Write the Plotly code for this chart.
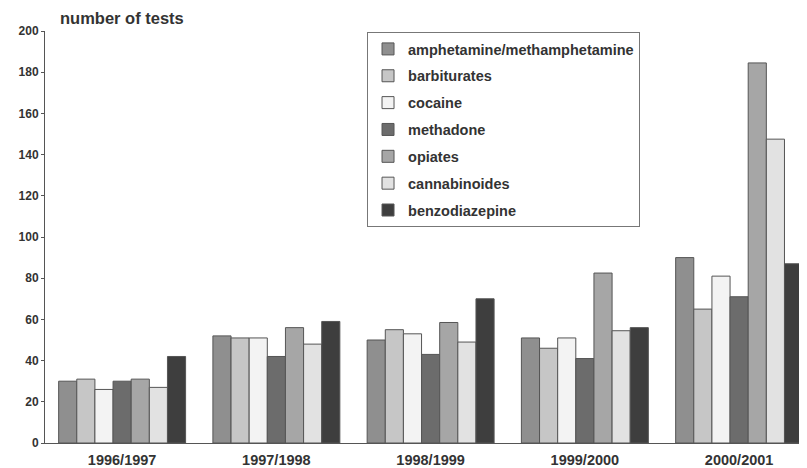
import plotly.graph_objects as go

years = ["1996/1997", "1997/1998", "1998/1999", "1999/2000", "2000/2001"]
series_names = ["amphetamine/methamphetamine", "barbiturates", "cocaine", "methadone",
                "opiates", "cannabinoides", "benzodiazepine"]
amphetamine = [30, 52, 50, 51, 90]
barbiturates = [31, 51, 55, 46, 65]
cocaine = [26, 51, 53, 51, 81]
methadone = [30, 42, 43, 41, 71]
opiates = [31, 56, 58.5, 82.5, 184.5]
cannabinoides = [27, 48, 49, 54.5, 147.5]
benzodiazepine = [42, 59, 70, 56, 87]
y_ticks = [0, 20, 40, 60, 80, 100, 120, 140, 160, 180, 200]

values = [amphetamine, barbiturates, cocaine, methadone, opiates, cannabinoides, benzodiazepine]
colors = ["#8f8f8f", "#c6c6c6", "#f3f3f3", "#6c6c6c", "#a6a6a6", "#e2e2e2", "#3e3e3e"]

fig = go.Figure()
for name, vals, col in zip(series_names, values, colors):
    fig.add_trace(go.Bar(
        x=years, y=vals, name=name, legendgroup=name,
        marker=dict(color=col, line=dict(color="#555555", width=1)),
    ))

font = "Liberation Sans, Arial, sans-serif"
fig.update_layout(
    width=799, height=460,
    margin=dict(l=37, r=0, t=23, b=19),
    paper_bgcolor="white", plot_bgcolor="white",
    barmode="group", bargap=0.177, bargroupgap=0,
    font=dict(family=font, color="#333333"),
    showlegend=True,
    legend=dict(
        x=0.4226, y=0.9976, xanchor="left", yanchor="top",
        bordercolor="#777777", borderwidth=1, bgcolor="white",
        font=dict(family=font, size=14.5, color="#333333", weight="bold"),
        traceorder="grouped", tracegroupgap=5, itemwidth=30,
    ),
    xaxis=dict(
        range=[-0.5, 4.44], showline=True, linecolor="#555555", linewidth=1,
        ticks="", tickfont=dict(family=font, size=14.5, color="#333333", weight="bold"),
        ticklabelstandoff=4, showgrid=False, fixedrange=True,
    ),
    yaxis=dict(
        range=[0, 200], tickvals=y_ticks, showline=True, linecolor="#555555", linewidth=1,
        ticks="outside", ticklen=3, tickcolor="#555555",
        tickfont=dict(family=font, size=12, color="#333333", weight="bold"),
        showgrid=False, zeroline=False, fixedrange=True,
    ),
    annotations=[dict(
        text="number of tests", xref="paper", yref="paper", x=0.017, y=1.0,
        yshift=13, xanchor="left", yanchor="middle", showarrow=False,
        font=dict(family=font, size=16.5, color="#333333", weight="bold"),
    )],
)

fig.write_html("out.html")
